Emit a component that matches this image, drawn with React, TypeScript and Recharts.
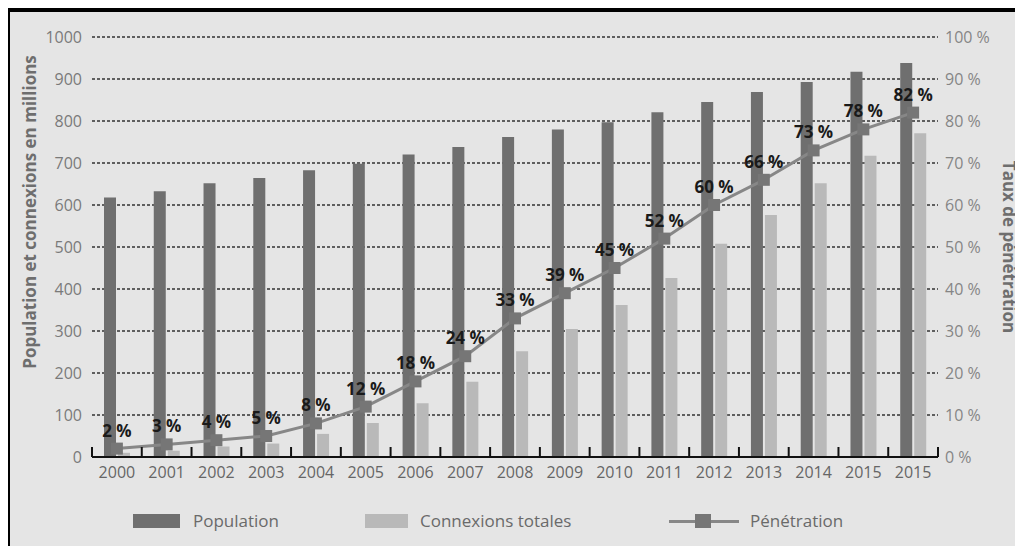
import {
  ComposedChart,
  Bar,
  Line,
  XAxis,
  YAxis,
  CartesianGrid,
  LabelList,
} from "recharts";

const YEARS = ["2000", "2001", "2002", "2003", "2004", "2005", "2006", "2007", "2008", "2009", "2010", "2011", "2012", "2013", "2014", "2015", "2015"];
const POPULATION = [618, 633, 652, 664, 683, 698, 720, 738, 762, 780, 797, 821, 845, 869, 893, 917, 938];
const CONNEXIONS = [10, 15, 25, 32, 55, 81, 128, 179, 252, 305, 362, 426, 508, 576, 652, 717, 771];
const PENETRATION = [2, 3, 4, 5, 8, 12, 18, 24, 33, 39, 45, 52, 60, 66, 73, 78, 82];
const LEFT_TICKS = [0, 100, 200, 300, 400, 500, 600, 700, 800, 900, 1000];
const RIGHT_TICKS = [0, 10, 20, 30, 40, 50, 60, 70, 80, 90, 100];

const FONT = "'Open Sans', 'Noto Sans', sans-serif";
const DARK = "#6f6f6f";
const LIGHT = "#b9b9b9";
const LINE = "#878787";
const MARKER = "#767676";

const data = YEARS.map((year, i) => ({
  year,
  pop: POPULATION[i],
  conn: CONNEXIONS[i],
  pen: PENETRATION[i],
}));

function YearTick(props: any) {
  const { x, y, payload, index } = props;
  const half = payload && payload.offset ? payload.offset : 24.9;
  const axisY = y - 10;
  return (
    <g>
      <line x1={x - half} x2={x - half} y1={axisY} y2={axisY - 10} stroke="#111" strokeWidth={2} />
      {index === YEARS.length - 1 && (
        <line x1={x + half} x2={x + half} y1={axisY} y2={axisY - 10} stroke="#111" strokeWidth={2} />
      )}
      <text x={x} y={y} dy="0.71em" textAnchor="middle" fill="#666" fontSize={16} fontFamily={FONT}>
        {payload.value}
      </text>
    </g>
  );
}

function SquareDot(props: any) {
  const { cx, cy, index } = props;
  return <rect key={`d${index}`} x={cx - 6} y={cy - 6} width={12} height={12} fill={MARKER} />;
}

function ChartLegend() {
  const text = { fontFamily: FONT, fontSize: 17, color: "#6a6a6a", position: "absolute" as const, top: 0, lineHeight: "24px" };
  return (
    <div style={{ position: "absolute", left: 0, top: 497, width: 1013, height: 24 }}>
      <div style={{ position: "absolute", left: 123, top: 5, width: 47, height: 14, background: DARK }} />
      <span style={{ ...text, left: 183 }}>Population</span>
      <div style={{ position: "absolute", left: 355, top: 5, width: 43, height: 14, background: LIGHT }} />
      <span style={{ ...text, left: 410 }}>Connexions totales</span>
      <div style={{ position: "absolute", left: 659, top: 11, width: 70, height: 3, background: LINE }} />
      <div style={{ position: "absolute", left: 685, top: 5, width: 16, height: 14, background: MARKER }} />
      <span style={{ ...text, left: 740 }}>Pénétration</span>
    </div>
  );
}

export default function App() {
  return (
    <div
      style={{
        position: "relative",
        marginLeft: -1,
        width: 1013,
        height: 535,
        borderTop: "4px solid #000",
        borderLeft: "3px solid #000",
        background: "#e5e5e5",
        overflow: "hidden",
      }}
    >
      <div style={{ position: "absolute", left: 1, top: -1 }}>
        <ComposedChart
          width={1009}
          height={500}
          data={data}
          margin={{ top: 26, right: 0, bottom: 24, left: 0 }}
          barSize={12}
          barGap={2}
        >
          <CartesianGrid yAxisId="left" vertical={false} stroke="#333" strokeWidth={1.5} strokeDasharray="3 2" />
          <XAxis
            dataKey="year"
            interval={0}
            height={30}
            tickSize={0}
            tickMargin={10}
            tickLine={false}
            axisLine={{ stroke: "#111", strokeWidth: 2 }}
            tick={<YearTick />}
          />
          <YAxis
            yAxisId="left"
            width={81}
            domain={[0, 1000]}
            ticks={LEFT_TICKS}
            axisLine={false}
            tickLine={false}
            tickSize={0}
            tickMargin={10}
            tick={{ fill: "#7a7a7a", fontSize: 16, fontFamily: FONT }}
            label={{
              value: "Population et connexions en millions",
              angle: -90,
              position: "center",
              dx: -22,
              dy: -35,
              fill: "#6e6e6e",
              fontSize: 17,
              fontWeight: 700,
              fontFamily: FONT,
            }}
          />
          <YAxis
            yAxisId="right"
            orientation="right"
            width={82}
            domain={[0, 100]}
            ticks={RIGHT_TICKS}
            axisLine={false}
            tickLine={false}
            tickSize={0}
            tickMargin={7}
            tickFormatter={(v: number) => `${v} %`}
            tick={{ fill: "#858585", fontSize: 16, fontFamily: FONT }}
            label={{
              value: "Taux de pénétration",
              angle: 90,
              position: "center",
              dx: 30,
              fill: "#6e6e6e",
              fontSize: 17,
              fontWeight: 700,
              fontFamily: FONT,
            }}
          />
          <Bar yAxisId="left" dataKey="pop" name="Population" fill={DARK} isAnimationActive={false} />
          <Bar yAxisId="left" dataKey="conn" name="Connexions totales" fill={LIGHT} isAnimationActive={false} />
          <Line
            yAxisId="right"
            dataKey="pen"
            name="Pénétration"
            type="linear"
            stroke={LINE}
            strokeWidth={3}
            dot={<SquareDot />}
            activeDot={false}
            isAnimationActive={false}
          >
            <LabelList
              dataKey="pen"
              position="top"
              offset={12}
              formatter={(v: any) => `${v} %`}
              fill="#1a1a1a"
              fontSize={17}
              fontWeight={700}
              fontFamily={FONT}
            />
          </Line>
        </ComposedChart>
      </div>
      <ChartLegend />
    </div>
  );
}
